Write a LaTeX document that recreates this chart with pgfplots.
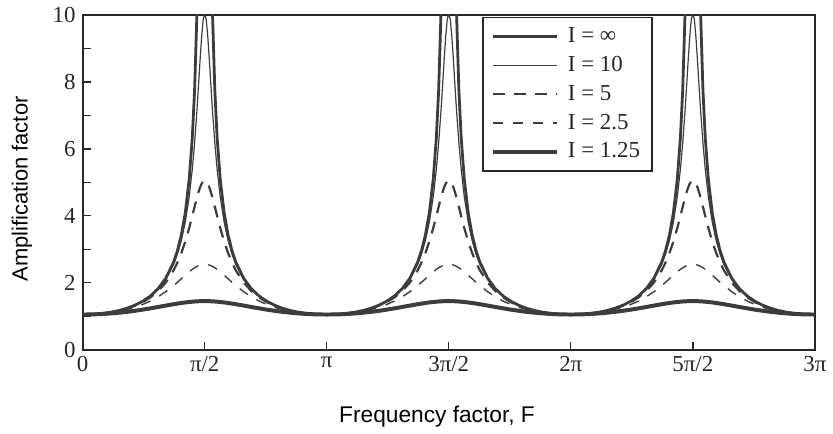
\documentclass[border=0pt]{standalone}
\usepackage{pgfplots}
\usepackage{pgfplotstable}
\pgfplotsset{compat=1.18}
\usepackage{fontspec}
\setmainfont{Liberation Serif}
\setsansfont{Liberation Sans}
\definecolor{crv}{HTML}{3C3C3C}
\pgfplotstableread{
F      inf     ten     five    twofive onetwofive
0.0000 1.050   1.050   1.050   1.050   1.050
0.0708 1.0525  1.0525  1.0524  1.052   1.0512
0.1708 1.065   1.065   1.064   1.062   1.057
0.2708 1.088   1.087   1.086   1.081   1.068
0.3708 1.123   1.122   1.120   1.110   1.084
0.4708 1.172   1.171   1.166   1.150   1.105
0.5708 1.238   1.236   1.229   1.201   1.130
0.6708 1.327   1.323   1.311   1.267   1.161
0.7708 1.444   1.437   1.418   1.349   1.195
0.8708 1.602   1.591   1.560   1.452   1.234
0.9708 1.821   1.802   1.750   1.579   1.275
1.0708 2.136   2.102   2.009   1.733   1.317
1.1708 2.618   2.549   2.371   1.915   1.358
1.2208 2.966   2.863   2.608   2.016   1.377
1.2708 3.434   3.270   2.892   2.120   1.395
1.3208 4.092   3.814   3.232   2.225   1.411
1.3708 5.083   4.564   3.633   2.325   1.424
1.4108 6.327   5.385   3.991   2.398   1.433
1.4408 7.764   6.177   4.271   2.447   1.439
1.4708 10.067  7.145   4.542   2.487   1.443
1.4908 12.56   7.877   4.706   2.509   1.446
1.5108 16.73   8.638   4.847   2.527   1.448
1.5308 25.05   9.341   4.957   2.540   1.449
1.5508 50.05   9.858   5.026   2.547   1.450
1.5708 inf     10.05   5.05    2.55    1.45
1.5908 50.05   9.858   5.026   2.547   1.450
1.6108 25.05   9.341   4.957   2.540   1.449
1.6308 16.73   8.638   4.847   2.527   1.448
1.6508 12.56   7.877   4.706   2.509   1.446
1.6708 10.067  7.145   4.542   2.487   1.443
1.7008 7.764   6.177   4.271   2.447   1.439
1.7308 6.327   5.385   3.991   2.398   1.433
1.7708 5.083   4.564   3.633   2.325   1.424
1.8208 4.092   3.814   3.232   2.225   1.411
1.8708 3.434   3.270   2.892   2.120   1.395
1.9208 2.966   2.863   2.608   2.016   1.377
1.9708 2.618   2.549   2.371   1.915   1.358
2.0708 2.136   2.102   2.009   1.733   1.317
2.1708 1.821   1.802   1.750   1.579   1.275
2.2708 1.602   1.591   1.560   1.452   1.234
2.3708 1.444   1.437   1.418   1.349   1.195
2.4708 1.327   1.323   1.311   1.267   1.161
2.5708 1.238   1.236   1.229   1.201   1.130
2.6708 1.172   1.171   1.166   1.150   1.105
2.7708 1.123   1.122   1.120   1.110   1.084
2.8708 1.088   1.087   1.086   1.081   1.068
2.9708 1.065   1.065   1.064   1.062   1.057
3.0708 1.0525  1.0525  1.0524  1.052   1.0512
3.1416 1.050   1.050   1.050   1.050   1.050
}\amp
\begin{document}
\begin{tikzpicture}
\path (-41.5pt,-40.5pt) rectangle (375pt,175.5pt);
\begin{axis}[
  scale only axis,
  width=367.5pt, height=168pt,
  xmin=0, xmax=9.42478, ymin=0, ymax=10,
  unbounded coords=jump,
  axis line style={line width=1pt, black!85},
  xtick={0,1.5708,3.14159,4.71239,6.28319,7.85398,9.42478},
  xticklabels={0,π/2,π,3π/2,2π,5π/2,3π},
  ytick={0,2,4,6,8,10},
  minor ytick={1,3,5,7,9},
  xtick pos=bottom, ytick pos=left,
  tick align=inside,
  major tick length=4pt, minor tick length=4pt,
  tick style={line width=0.7pt, black!85},
  /pgf/number format/assume math mode=true,
  ticklabel style={font=\fontsize{11.5}{13}\selectfont, text=black!85},
  xlabel={Frequency factor, F},
  ylabel={Amplification factor},
  xlabel style={font=\sffamily\fontsize{11.4}{13}\selectfont, at={(axis description cs:0.484,-0.2)}, anchor=center},
  ylabel style={font=\sffamily\fontsize{11}{13}\selectfont, at={(axis description cs:-0.083,0.48)}, anchor=center},
  legend style={at={(0.546,0.995)}, anchor=north west, draw=black!85, line width=0.8pt,
    font=\fontsize{11.5}{13}\selectfont, text=black!85, inner xsep=4pt, inner ysep=3pt,
    row sep=1.4pt, column sep=2.5pt, cells={anchor=west}},
  legend image code/.code={\draw[#1] (0pt,0pt) -- (32pt,0pt);},
]
\addplot[crv, line width=1.4pt] table[x=F, y=inf] {\amp};
\addlegendentry{I = ∞}
\addplot[crv, line width=0.6pt] table[x=F, y=ten] {\amp};
\addlegendentry{I = 10}
\addplot[crv, line width=1.1pt, dash pattern=on 6pt off 4.5pt] table[x=F, y=five] {\amp};
\addlegendentry{I = 5}
\addplot[crv, line width=0.7pt, dash pattern=on 5pt off 5pt] table[x=F, y=twofive] {\amp};
\addlegendentry{I = 2.5}
\addplot[crv, line width=2pt] table[x=F, y=onetwofive] {\amp};
\addlegendentry{I = 1.25}

\addplot[crv, line width=1.4pt, forget plot] table[x expr=\thisrow{F}+3.14159, y=inf] {\amp};
\addplot[crv, line width=0.6pt, forget plot] table[x expr=\thisrow{F}+3.14159, y=ten] {\amp};
\addplot[crv, line width=1.1pt, dash pattern=on 6pt off 4.5pt, forget plot] table[x expr=\thisrow{F}+3.14159, y=five] {\amp};
\addplot[crv, line width=0.7pt, dash pattern=on 5pt off 5pt, forget plot] table[x expr=\thisrow{F}+3.14159, y=twofive] {\amp};
\addplot[crv, line width=2pt, forget plot] table[x expr=\thisrow{F}+3.14159, y=onetwofive] {\amp};

\addplot[crv, line width=1.4pt, forget plot] table[x expr=\thisrow{F}+6.28319, y=inf] {\amp};
\addplot[crv, line width=0.6pt, forget plot] table[x expr=\thisrow{F}+6.28319, y=ten] {\amp};
\addplot[crv, line width=1.1pt, dash pattern=on 6pt off 4.5pt, forget plot] table[x expr=\thisrow{F}+6.28319, y=five] {\amp};
\addplot[crv, line width=0.7pt, dash pattern=on 5pt off 5pt, forget plot] table[x expr=\thisrow{F}+6.28319, y=twofive] {\amp};
\addplot[crv, line width=2pt, forget plot] table[x expr=\thisrow{F}+6.28319, y=onetwofive] {\amp};
\end{axis}
\end{tikzpicture}
\end{document}
